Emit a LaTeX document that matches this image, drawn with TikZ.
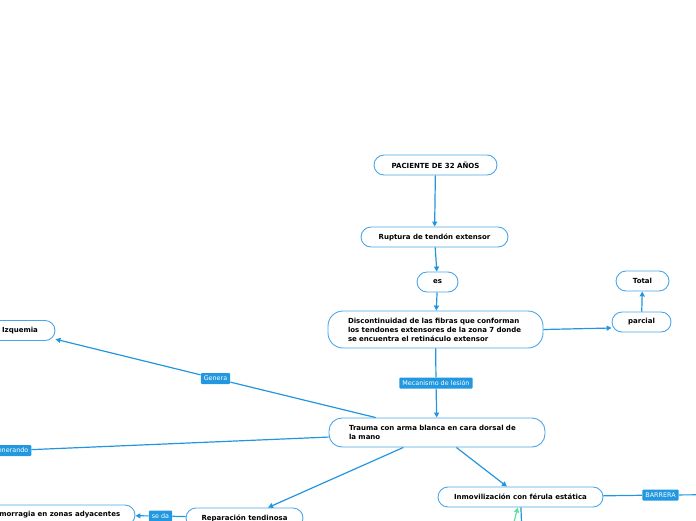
\documentclass[tikz,border=0pt]{standalone}
\usepackage{fontspec}
\setmainfont{DejaVu Sans}
\usetikzlibrary{arrows.meta}
\definecolor{lineblue}{HTML}{2196DE}
\definecolor{boxblue}{HTML}{4AA6E8}
\definecolor{lblblue}{HTML}{2298E0}
\definecolor{arrgreen}{HTML}{5BE39B}
\begin{document}
\begin{tikzpicture}[x=1pt,y=-1pt,
  box/.style={draw=boxblue, line width=0.9pt, rounded corners=10pt, fill=white,
    font=\bfseries\fontsize{7}{9}\selectfont, text=black, inner sep=0pt,
    minimum height=20pt},
  bigbox/.style={box, align=left, inner xsep=20pt},
  lbl/.style={fill=lblblue, text=white, font=\fontsize{6.4}{7}\selectfont,
    inner xsep=3pt, inner ysep=0pt, minimum height=11pt, rounded corners=1pt},
  conn/.style={draw=lineblue, line width=1.2pt},
  arr/.style={conn, -{Triangle[length=5pt,width=5pt]}},
  garr/.style={draw=arrgreen, line width=1.2pt, -{Triangle[length=5pt,width=5pt]}}
]
\useasboundingbox (0,0) rectangle (696,520);
\clip (0,0) rectangle (696,520);

% nodes
\node[box, minimum width=123pt] (pac) at (435.5,165) {PACIENTE DE 32 AÑOS};
\node[box, minimum width=147pt] (rup) at (434.5,237) {Ruptura de tendón extensor};
\node[box, minimum width=41pt] (es) at (437.5,282) {es};
\node[bigbox, text width=175pt, minimum height=37pt, rounded corners=15pt] (disc) at (435.5,329.5)
  {Discontinuidad de las fibras que conforman\\los tendones extensores de la zona 7 donde\\se encuentra el retináculo extensor};
\node[box, minimum width=53pt] (tot) at (642.5,281) {Total};
\node[box, minimum width=59pt] (par) at (641.5,322) {parcial};
\node[box, minimum width=70pt] (izq) at (20,330.5) {Izquemia};
\node[bigbox, text width=176pt, minimum height=29pt, rounded corners=13pt] (tra) at (437,432.5)
  {Trauma con arma blanca en cara dorsal de\\la mano};
\node[box, minimum width=165pt] (inm) at (520.5,497) {Inmovilización con férula estática};
\node[box, minimum width=117pt] (rep) at (244.5,518) {Reparación tendinosa};
\node[box, minimum width=161pt] (hem) at (54.5,515) {Hemorragia en zonas adyacentes};

% off-picture ends
\coordinate (genend) at (-200,457);
\coordinate (barend) at (760,494.5);
\coordinate (gstart) at (508,545);
\coordinate (dend) at (523,560);

% labels
\node[lbl] (mec) at (436,383) {Mecanismo de lesión};
\node[lbl] (gen) at (215.5,378.5) {Genera};
\node[lbl, anchor=east] (gdo) at (31.5,450.5) {Generando};
\node[lbl] (seda) at (160.5,516) {se da};
\node[lbl] (bar) at (660.5,495) {BARRERA};

% connectors
\draw[arr] (pac) -- (rup);
\draw[arr] (rup) -- (es);
\draw[arr] (es) -- (disc);
\draw[arr] (disc.east) -- ([yshift=-6pt]par.west);
\draw[arr] (par) -- (tot);
\draw[conn] (disc) -- (mec);
\draw[arr] (mec) -- (tra);
\draw[conn] (tra) -- (gen);
\draw[arr] (gen) -- (izq);
\draw[conn] (tra) -- (gdo);
\draw[conn] (gdo) -- (genend);
\draw[arr] (tra) -- (rep);
\draw[arr] (tra) -- (inm);
\draw[conn] (rep) -- (seda);
\draw[arr] (seda) -- (hem);
\draw[conn] (inm) -- (bar);
\draw[conn] (bar) -- (barend);
\draw[conn] (inm) -- (dend);
\draw[garr] (gstart) -- (inm);
\end{tikzpicture}
\end{document}
